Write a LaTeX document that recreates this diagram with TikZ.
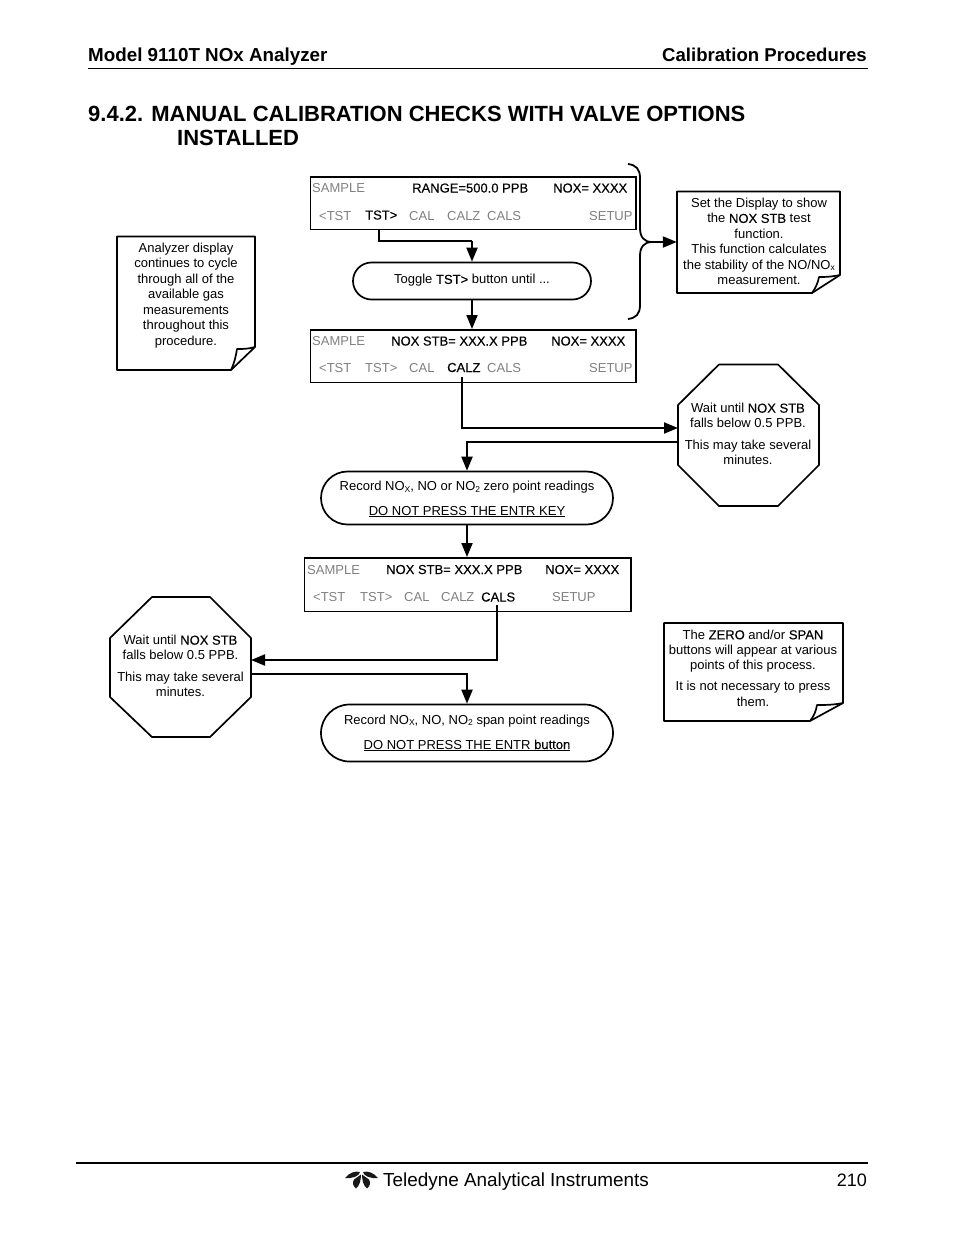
\documentclass[tikz,border=0pt]{standalone}
\usepackage{fontspec}
\setmainfont{Liberation Sans}
\newfontfamily\fb[FakeBold=0.25]{Liberation Sans}
\usetikzlibrary{arrows.meta,shapes.misc}
\definecolor{dgray}{gray}{0.5}
\newcommand{\kw}[1]{{\fb #1}}
\newcommand{\subs}[1]{\raisebox{-1.5pt}{\fontsize{8.5}{9}\selectfont #1}}
\tikzset{
 lbl/.style={anchor=base west,inner sep=0pt,font=\fontsize{13}{15}\selectfont},
 off/.style={lbl,text=dgray},
 on/.style={lbl,text=black,font=\fontsize{13}{15}\selectfont\fb},
 panel/.style={draw,line width=1.7pt,inner sep=0pt,anchor=north west},
 pill/.style={draw,rounded rectangle,line width=1.7pt,inner sep=0pt},
 note/.style={inner sep=0pt,align=center,font=\fontsize{13}{15.5}\selectfont},
 shapeline/.style={line width=1.7pt,line join=round},
 conn/.style={line width=2pt,-{Triangle[length=14pt,width=11pt]}},
 plainconn/.style={line width=2pt},
 head/.style={anchor=base west,inner sep=0pt,font=\fontsize{18.8}{20}\selectfont\bfseries},
 ttl/.style={anchor=base west,inner sep=0pt,font=\fontsize{22}{25}\selectfont\bfseries},
}
\begin{document}
\begin{tikzpicture}[x=1pt,y=-1pt]
\useasboundingbox (0,0) rectangle (954,1235);
% header
\node[head] (h1) at (88,61) {Model 9110T NOx Analyzer};
\node[head,anchor=base east,font=\fontsize{18.6}{20}\selectfont\bfseries] (h2) at (867,61) {Calibration Procedures};
\coordinate (hl) at (88,68); \coordinate (hr) at (868,68);
\draw[line width=1pt] (hl) -- (hr);
\node[ttl] (t1) at (88,121) {9.4.2. MANUAL CALIBRATION CHECKS WITH VALVE OPTIONS};
\node[ttl] (t2) at (177,145.5) {INSTALLED};
% panel 1
\node[panel,minimum width=325.5pt,minimum height=52.5pt] (d1) at (309.5,176) {};
\node[off] (d1a) at (312,192) {SAMPLE};
\node[on] (d1b) at (412,192.5) {RANGE=500.0 PPB};
\node[on] (d1c) at (553,192.5) {NOX= XXXX};
\node[off] (d1d) at (319,220) {<TST};
\node[on] (d1e) at (365,219.5) {TST>};
\node[off] (d1f) at (409,220) {CAL};
\node[off] (d1g) at (447,220) {CALZ};
\node[off] (d1h) at (487,220) {CALS};
\node[off] (d1i) at (589,220) {SETUP};
% panel 2
\node[panel,minimum width=325.5pt,minimum height=52.5pt] (d2) at (309.5,329) {};
\node[off] (d2a) at (312,345) {SAMPLE};
\node[on] (d2b) at (391,345.5) {NOX STB= XXX.X PPB};
\node[on] (d2c) at (551,345.5) {NOX= XXXX};
\node[off] (d2d) at (319,372) {<TST};
\node[off] (d2e) at (365,372) {TST>};
\node[off] (d2f) at (409,372) {CAL};
\node[on] (d2g) at (447,372) {CALZ};
\node[off] (d2h) at (487,372) {CALS};
\node[off] (d2i) at (589,372) {SETUP};
% panel 3
\node[panel,minimum width=326.5pt,minimum height=53.5pt] (d3) at (303.5,557) {};
\node[off] (d3a) at (307,574) {SAMPLE};
\node[on] (d3b) at (386,574) {NOX STB= XXX.X PPB};
\node[on] (d3c) at (545,574) {NOX= XXXX};
\node[off] (d3d) at (313,601) {<TST};
\node[off] (d3e) at (360,601) {TST>};
\node[off] (d3f) at (404,601) {CAL};
\node[off] (d3g) at (441,601) {CALZ};
\node[on] (d3h) at (481,601.5) {CALS};
\node[off] (d3i) at (552,601) {SETUP};
% pills
\node[pill,minimum width=238pt,minimum height=37pt] (p1) at (472,281) {};
\node[note] (p1t) at (472,280.5) {Toggle \kw{TST>} button until ...};
\node[pill,minimum width=292pt,minimum height=53pt] (p2) at (467,498) {};
\node[lbl,anchor=base] (p2a) at (467,490.5) {Record NO\subs{X}, NO or NO\subs{2} zero point readings};
\node[lbl,anchor=base] (p2b) at (467,515) {\underline{DO NOT PRESS THE ENTR KEY}};
\node[pill,minimum width=292pt,minimum height=57pt] (p3) at (467,733) {};
\node[lbl,anchor=base] (p3a) at (467,724) {Record NO\subs{X}, NO, NO\subs{2} span point readings};
\node[lbl,anchor=base] (p3b) at (467,749) {\underline{DO NOT PRESS THE ENTR \kw{button}}};
% octagons
\draw[shapeline] (719,364.5) -- (778,364.5) -- (819,405) -- (819,465) -- (778,506) -- (719,506) -- (678,465) -- (678,405) -- cycle;
\node[inner sep=0pt,minimum width=141pt,minimum height=142pt] (o1) at (748.5,435) {};
\node[note,font=\fontsize{13}{15}\selectfont] (o1t) at (748,434) {Wait until \kw{NOX STB}\\falls below 0.5 PPB.\\[7pt]This may take several\\minutes.};
\draw[shapeline] (152,597) -- (210,597) -- (251,638) -- (251,697) -- (210,737) -- (152,737) -- (110,697) -- (110,638) -- cycle;
\node[inner sep=0pt,minimum width=141pt,minimum height=140pt] (o2) at (180.5,667) {};
\node[note,font=\fontsize{13}{15}\selectfont] (o2t) at (180.5,666) {Wait until \kw{NOX STB}\\falls below 0.5 PPB.\\[7pt]This may take several\\minutes.};
% notes
\draw[shapeline] (677,191.5) -- (840,191.5) -- (840,275) -- (812,293) -- (677,293) -- cycle;
\draw[shapeline] (840,275) .. controls (830,277) and (825,277) .. (819,277) .. controls (818,283) and (815,289) .. (812,293);
\node[inner sep=0pt,minimum width=163pt,minimum height=102pt] (n1) at (758.5,242) {};
\node[note] (n1t) at (759,241.5) {Set the Display to show\\the \kw{NOX STB} test\\function.\\This function calculates\\the stability of the NO/NO\subs{x}\\measurement.};
\draw[shapeline] (117,236.5) -- (255,236.5) -- (255,347) -- (231,370) -- (117,370) -- cycle;
\draw[shapeline] (255,347) .. controls (248,349) and (243,349) .. (237,349) .. controls (236,356) and (234,364) .. (231,370);
\node[note] (n2t) at (186,295.5) {Analyzer display\\continues to cycle\\through all of the\\available gas\\measurements\\throughout this\\procedure.};
\draw[shapeline] (664,623) -- (843,623) -- (843,703) -- (810,721) -- (664,721) -- cycle;
\draw[shapeline] (843,703) .. controls (833,705) and (825,705) .. (817,705) .. controls (816,711) and (814,716) .. (810,721);
\node[note,font=\fontsize{13}{15.3}\selectfont] (n3t) at (753,668) {The \kw{ZERO} and/or \kw{SPAN}\\buttons will appear at various\\points of this process.\\[5.5pt]It is not necessary to press\\them.};
% brace
\coordinate (b1) at (628,164);
\coordinate (b2) at (628,319);
\coordinate (bm) at (652,242);
\draw[plainconn,line width=1.8pt] (b1) .. controls (636,165) and (640,169) .. (640,178) -- (640,228) .. controls (640,237) and (644,242) .. (bm) .. controls (644,242) and (640,247) .. (640,256) -- (640,305) .. controls (640,314) and (636,318) .. (b2);
\draw[conn] (bm) -- (n1.west |- bm);
% connectors
\coordinate (c1) at (379,229);
\coordinate (j1) at (472,241);
\draw[plainconn] (c1) |- (j1);
\draw[conn] (j1) -- (p1.north);
\draw[conn] (p1.south) -- (p1.south |- d2.north);
\coordinate (c2) at (462,377);
\coordinate (e2) at (678,428);
\draw[conn] (c2) |- (e2);
\coordinate (e3) at (678,442);
\draw[conn] (e3) -| (p2.north);
\draw[conn] (p2.south) -- (p2.south |- d3.north);
\coordinate (c3) at (497,605);
\coordinate (e4) at (251,660);
\draw[conn] (c3) |- (e4);
\coordinate (e5) at (251,674);
\draw[conn] (e5) -| (p3.north);
% footer
\coordinate (fl) at (76,1163); \coordinate (fr) at (868,1163);
\draw[line width=2.2pt] (fl) -- (fr);
\fill[black!90] (345,1178) .. controls (349,1173) and (355,1170.5) .. (360,1172) .. controls (359.5,1176) and (352,1179) .. (345,1178) -- cycle;
\fill[black!90] (378,1178) .. controls (374,1173) and (368,1170.5) .. (363,1172) .. controls (363.5,1176) and (371,1179) .. (378,1178) -- cycle;
\fill[black!90] (354,1179.5) .. controls (352,1183) and (353,1186) .. (356,1188.5) .. controls (359.5,1186) and (361,1180) .. (361,1174.5) -- cycle;
\fill[black!90] (369,1179.5) .. controls (371,1183) and (370,1186) .. (367,1188.5) .. controls (363.5,1186) and (362,1180) .. (362,1174.5) -- cycle;
\node[anchor=base west,inner sep=0pt,font=\fontsize{18.9}{20}\selectfont] (f1) at (383,1186) {Teledyne Analytical Instruments};
\node[anchor=base east,inner sep=0pt,font=\fontsize{18}{20}\selectfont] (f2) at (867,1186) {210};
\end{tikzpicture}
\end{document}
